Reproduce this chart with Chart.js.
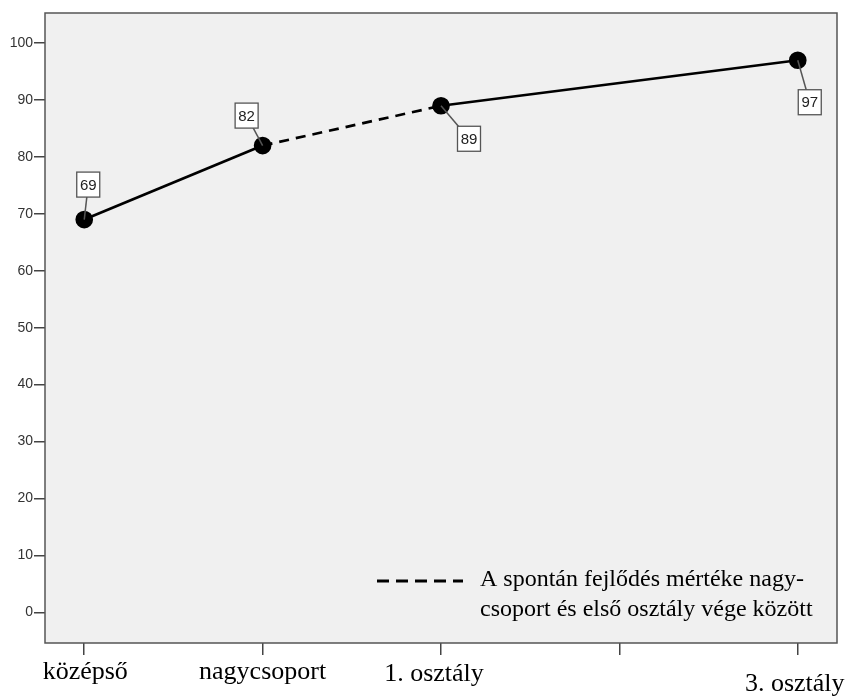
<!DOCTYPE html>
<html><head><meta charset="utf-8">
<script src="https://cdn.jsdelivr.net/npm/chart.js@4/dist/chart.umd.min.js"></script>
<style>html,body{margin:0;padding:0;background:#fff}#wrap{width:849px;height:697px;position:relative}</style>
</head><body><div id="wrap"><canvas id="c"></canvas></div>
<script>
const categories = ['középső', 'nagycsoport', '1. osztály', '', '3. osztály'];
const values = [69, 82, 89, null, 97];
const yTicks = [0, 10, 20, 30, 40, 50, 60, 70, 80, 90, 100];
const legendLines = ['A spontán fejlődés mértéke nagy-', 'csoport és első osztály vége között'];
const dashedSegmentStart = 1;

// style: label box offsets (px) relative to each point
const labelOffsets = {0: [4, -35], 1: [-16, -30], 2: [28, 33], 4: [12, 42]};
// style: x category label offsets (px) relative to tick / area bottom
const xLabelOffsets = {0: [1, 29], 1: [0, 29], 2: [-7, 31], 3: [0, 29], 4: [-3, 41]};

const decor = {
  id: 'decor',
  beforeDraw(chart) {
    const {ctx, chartArea: a} = chart;
    ctx.save();
    ctx.fillStyle = '#f0f0f0';
    ctx.fillRect(a.left, a.top, a.right - a.left, a.bottom - a.top);
    ctx.restore();
  },
  beforeDatasetsDraw(chart) {
    const {ctx, chartArea: a, scales} = chart;
    ctx.save();
    ctx.strokeStyle = '#555';
    ctx.lineWidth = 1.5;
    ctx.strokeRect(a.left, a.top, a.right - a.left, a.bottom - a.top);
    // x category labels
    ctx.fillStyle = '#000';
    ctx.font = '26px "Liberation Serif", "Times New Roman", serif';
    ctx.textAlign = 'center';
    ctx.textBaseline = 'middle';
    categories.forEach((c, i) => {
      if (!c) return;
      const o = xLabelOffsets[i] || [0, 29];
      ctx.fillText(c, scales.x.getPixelForValue(i) + o[0], a.bottom + o[1]);
    });
    // legend
    const lx = a.right - 460, ly = a.bottom - 62;
    ctx.strokeStyle = '#000';
    ctx.lineWidth = 3;
    ctx.setLineDash([12, 7]);
    ctx.beginPath();
    ctx.moveTo(lx, ly);
    ctx.lineTo(lx + 86, ly);
    ctx.stroke();
    ctx.setLineDash([]);
    ctx.font = '24px "Liberation Serif", "Times New Roman", serif';
    ctx.textAlign = 'left';
    legendLines.forEach((t, k) => ctx.fillText(t, lx + 103, ly - 1 + k * 30));
    ctx.restore();
  },
  afterDatasetsDraw(chart) {
    const {ctx} = chart;
    const meta = chart.getDatasetMeta(0);
    ctx.save();
    meta.data.forEach((pt, i) => {
      if (values[i] == null) return;
      const o = labelOffsets[i] || [0, -30];
      const cx = pt.x + o[0], cy = pt.y + o[1];
      const w = 23, h = 25;
      ctx.strokeStyle = '#555';
      ctx.lineWidth = 1.5;
      ctx.beginPath();
      ctx.moveTo(pt.x, pt.y);
      ctx.lineTo(cx, cy);
      ctx.stroke();
      ctx.fillStyle = '#fff';
      ctx.fillRect(cx - w / 2, cy - h / 2, w, h);
      ctx.lineWidth = 1.3;
      ctx.strokeStyle = '#555';
      ctx.strokeRect(cx - w / 2, cy - h / 2, w, h);
      ctx.fillStyle = '#222';
      ctx.font = '15px "Liberation Sans", sans-serif';
      ctx.textAlign = 'center';
      ctx.textBaseline = 'middle';
      ctx.fillText(String(values[i]), cx, cy + 1);
    });
    ctx.restore();
  }
};

new Chart(document.getElementById('c'), {
  type: 'line',
  data: {
    datasets: [{
      data: values.map((v, i) => ({x: i, y: v})),
      borderColor: '#000',
      backgroundColor: '#000',
      borderWidth: 2.7,
      pointRadius: 7.5,
      pointBackgroundColor: '#000',
      pointBorderColor: '#000',
      tension: 0,
      spanGaps: true,
      segment: {
        borderDash: ctx => ctx.p0DataIndex === dashedSegmentStart ? [10, 7] : undefined
      }
    }]
  },
  options: {
    responsive: true,
    maintainAspectRatio: false,
    animation: false,
    events: [],
    layout: {padding: {left: 0, right: 12, top: 13, bottom: 0}},
    plugins: {legend: {display: false}, tooltip: {enabled: false}},
    scales: {
      x: {
        type: 'linear',
        min: -0.22,
        max: 4.22,
        afterBuildTicks: s => { s.ticks = categories.map((c, i) => ({value: i})); },
        afterFit: s => { s.height = 54; },
        ticks: {display: false},
        border: {display: false},
        grid: {drawOnChartArea: false, drawTicks: true, tickLength: 12, color: '#444', lineWidth: 1.5}
      },
      y: {
        min: -5.4,
        max: 105.3,
        afterBuildTicks: s => { s.ticks = yTicks.map(v => ({value: v})); },
        afterFit: s => { s.width = 45; },
        ticks: {color: '#333', font: {family: '"Liberation Sans", sans-serif', size: 14}, padding: 1},
        border: {display: false},
        grid: {drawOnChartArea: false, drawTicks: true, tickLength: 11, color: '#444', lineWidth: 1.5}
      }
    }
  },
  plugins: [decor]
});
</script>
</body></html>
